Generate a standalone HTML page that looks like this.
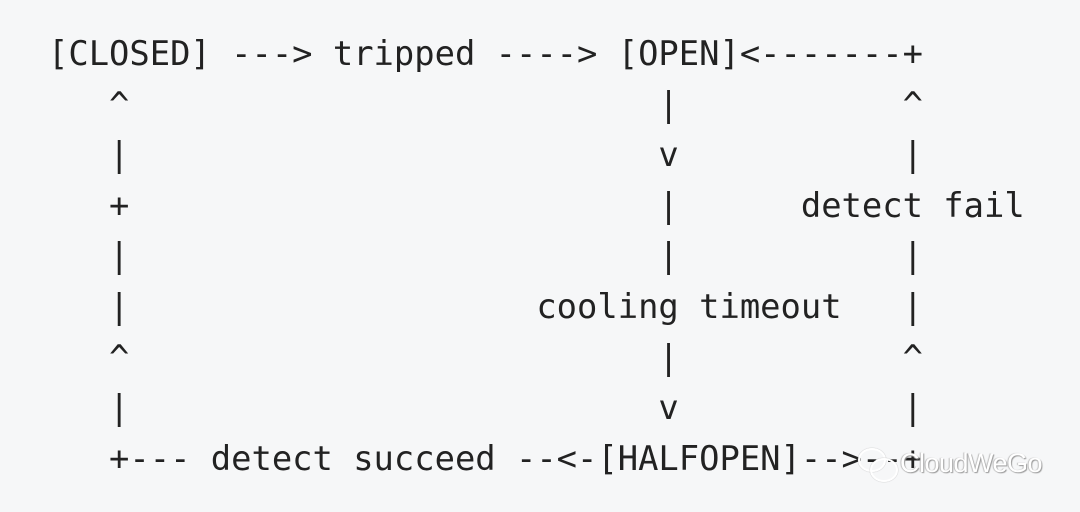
<!DOCTYPE html>
<html><head><meta charset="utf-8"><style>
html,body{margin:0;padding:0;}
body{width:1080px;height:512px;background:#f6f7f8;position:relative;overflow:hidden;}
pre{position:absolute;left:48px;top:29px;margin:0;font-family:"DejaVu Sans Mono","Liberation Mono",monospace;font-size:33.8px;line-height:50.6px;color:#222;}
.wm{position:absolute;left:900px;top:448px;font-family:"Liberation Sans","DejaVu Sans",sans-serif;font-size:27px;color:#fff;text-shadow:1px 1px 1px #999,-1px 0 1px #bbb;letter-spacing:-0.5px;}
.ic{position:absolute;border:2px solid #fff;border-radius:50%;box-shadow:0 0 1px #999;}
</style></head><body>
<pre>[CLOSED] ---&gt; tripped ----&gt; [OPEN]&lt;-------+
   ^                          |           ^
   |                          v           |
   +                          |      detect fail
   |                          |           |
   |                    cooling timeout   |
   ^                          |           ^
   |                          v           |
   +--- detect succeed --&lt;-[HALFOPEN]--&gt;--+</pre>
<div class="ic" style="left:858px;top:448px;width:24px;height:20px;"></div>
<div class="ic" style="left:870px;top:458px;width:24px;height:20px;"></div>
<div class="wm">CloudWeGo</div>
</body></html>
